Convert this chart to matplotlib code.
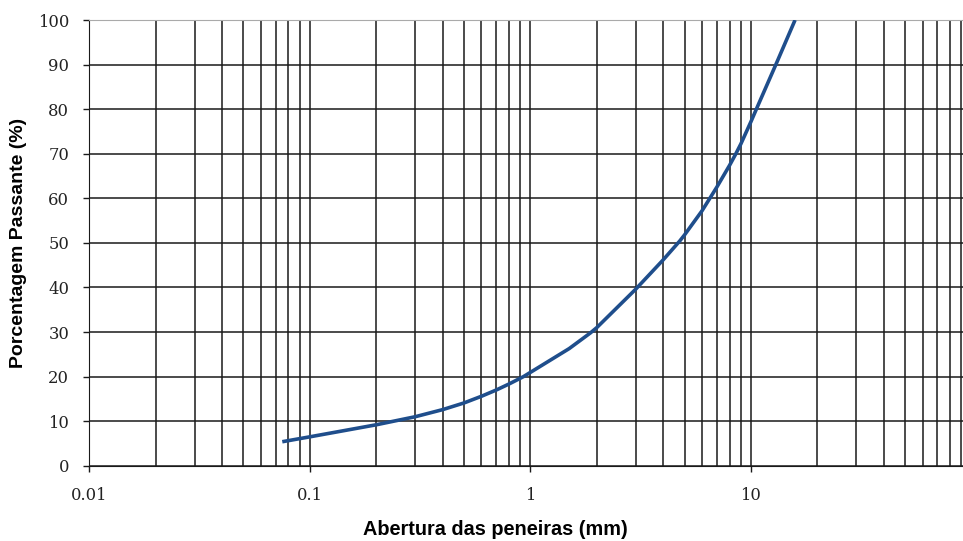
import matplotlib.pyplot as plt
from matplotlib.ticker import LogLocator, FixedLocator, NullFormatter

# sieve opening (mm) and percent passing
abertura = [0.075, 0.1, 0.2, 0.3, 0.4, 0.5, 0.6, 0.7, 0.8, 0.93, 1.5, 1.87,
            2, 3, 4, 4.75, 5, 6, 7, 8, 8.5, 9, 10, 10.58, 13.1, 15.85]
passante = [5.4, 6.5, 9.2, 11.0, 12.6, 14.1, 15.6, 17.0, 18.35, 20.0, 26.3, 29.8,
            31.0, 39.6, 46.2, 50.4, 51.8, 57.2, 62.5, 67.4, 69.8, 72.2, 77.2, 80.0, 90.5, 100.0]

x_ticks = [0.01, 0.1, 1, 10]
x_labels = ["0.01", "0.1", "1", "10"]
y_ticks = list(range(0, 101, 10))

fig = plt.figure(figsize=(9.63, 5.41), dpi=100)
ax = fig.add_axes([0.0927, 0.139, 0.9073, 0.824])

ax.plot(abertura, passante, color="#1f4e8c", lw=2.6, solid_capstyle="butt",
        solid_joinstyle="round", zorder=3)

ax.set_xscale("log")
ax.set_xlim(0.01, 91.5)
ax.set_ylim(0, 100)

ax.xaxis.set_major_locator(FixedLocator(x_ticks))
ax.set_xticklabels(x_labels)
ax.xaxis.set_minor_locator(LogLocator(base=10, subs=range(2, 10)))
ax.xaxis.set_minor_formatter(NullFormatter())
ax.set_yticks(y_ticks)

ax.grid(True, which="both", axis="x", color="#1a1a1a", lw=1.1)
ax.grid(True, which="major", axis="y", color="#1a1a1a", lw=1.1)
ax.set_axisbelow(True)

ax.tick_params(axis="both", which="major", direction="out", length=4.5, width=1,
               color="#1a1a1a", labelsize=11.8)
ax.tick_params(axis="y", which="major", pad=10)
ax.tick_params(axis="x", which="major", pad=11)
ax.tick_params(axis="x", which="minor", length=0)
for lab in ax.get_xticklabels() + ax.get_yticklabels():
    lab.set_family("DejaVu Serif")
    lab.set_color("#222222")

ax.spines["right"].set_visible(False)
ax.spines["top"].set_color("#aaaaaa")
ax.spines["left"].set_color("#1a1a1a")
ax.spines["bottom"].set_color("#1a1a1a")

fig.text(0.514, 0.021, "Abertura das peneiras (mm)", ha="center", va="center",
         fontsize=14.3, fontweight="bold", family="Liberation Sans")
fig.text(0.019, 0.551, "Porcentagem Passante (%)", ha="center", va="center",
         rotation=90, fontsize=14, fontweight="bold", family="Liberation Sans")

fig.savefig("out.png", dpi=100)
